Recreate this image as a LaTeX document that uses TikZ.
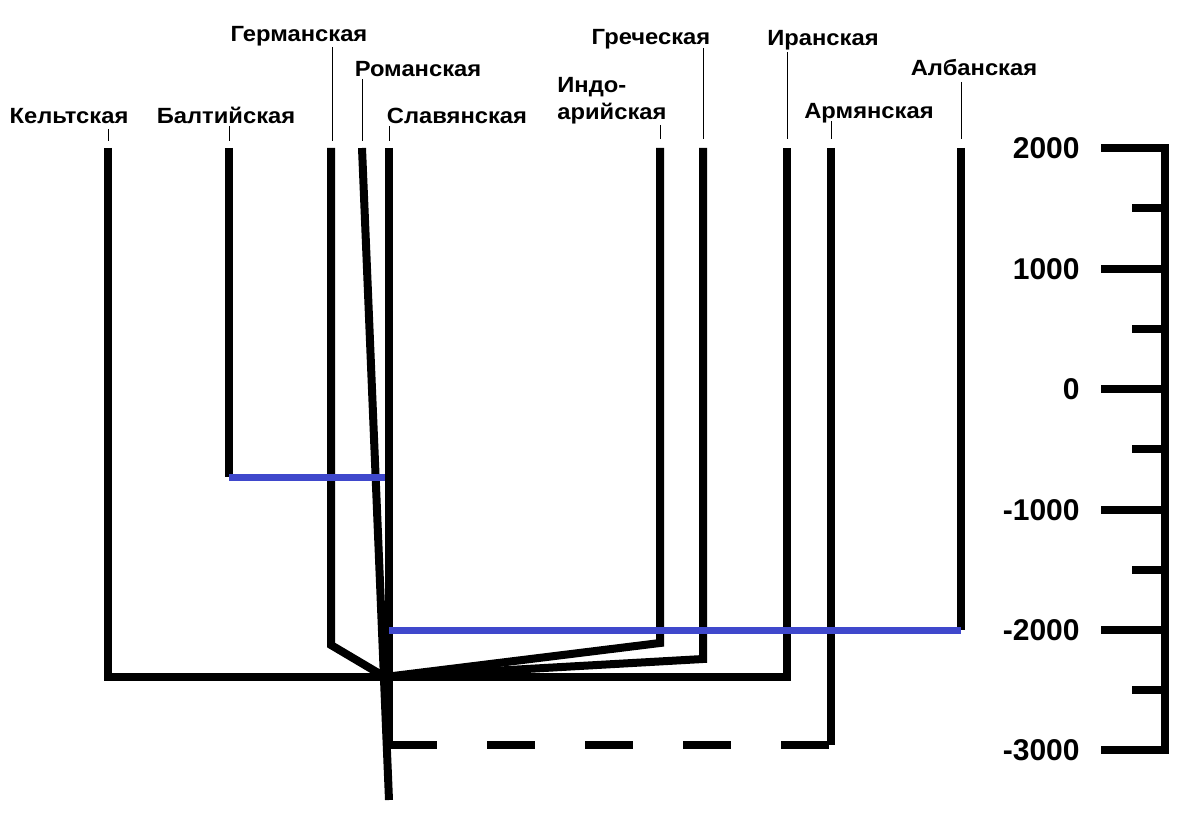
\documentclass[tikz,border=0pt]{standalone}
\usepackage{graphicx}
\usepackage{fontspec}
\setmainfont{Liberation Sans}
\definecolor{isoblue}{RGB}{63,72,204}
\newcommand\widetxt[1]{\scalebox{1.08}[1]{#1}}
\begin{document}
\begin{tikzpicture}[x=0.5pt,y=-0.5pt,
  bar/.style={line width=4pt, line join=miter},
  iso/.style={line width=3.5pt, draw=isoblue},
  dashedbar/.style={line width=4pt, dash pattern=on 24pt off 25pt},
  leader/.style={line width=0.5pt},
  lbl/.style={font=\bfseries\fontsize{11}{13.5}\selectfont, inner sep=0pt, anchor=base},
  num/.style={font=\bfseries\fontsize{15}{18}\selectfont, inner sep=0pt, anchor=east},
  scaleline/.style={line width=4pt, line join=miter}]
\useasboundingbox (0,0) rectangle (1200,818);

% ---- labels ----
\node[lbl] (kelt) at (69,124) {\widetxt{Кельтская}};
\node[lbl] (balt) at (226,124) {\widetxt{Балтийская}};
\node[lbl] (germ) at (299,42) {\widetxt{Германская}};
\node[lbl] (rom) at (418,77) {\widetxt{Романская}};
\node[lbl] (slav) at (457,124) {\widetxt{Славянская}};
\node[lbl, anchor=base west, align=left] (indo) at (557,120) {\widetxt{Индо-}\\\widetxt{арийская}};
\node[lbl] (grek) at (651,45) {\widetxt{Греческая}};
\node[lbl] (iran) at (823,46) {\widetxt{Иранская}};
\node[lbl] (arm) at (869,119) {\widetxt{Армянская}};
\node[lbl] (alb) at (974,76) {\widetxt{Албанская}};

% ---- coordinates ----
\coordinate (keltT) at (108,148);  \coordinate (keltB) at (108,677);
\coordinate (baltT) at (229,148);  \coordinate (baltB) at (229,477);
\coordinate (germT) at (331,148);  \coordinate (germK) at (331,645);
\coordinate (romT)  at (362,148);  \coordinate (root) at (389,800);
\coordinate (slavT) at (389,148);  \coordinate (slavB) at (389,745);
\coordinate (indoT) at (660,148);  \coordinate (indoK) at (660,643);
\coordinate (grekT) at (703,148);  \coordinate (grekK) at (703,659);
\coordinate (iranT) at (787,148);  \coordinate (iranB) at (787,677);
\coordinate (armT)  at (831,148);  \coordinate (armB)  at (831,745);
\coordinate (albT)  at (961,148);  \coordinate (albB)  at (961,630);
\coordinate (hub)   at (385,677);
\coordinate (baltJ) at (385,477);
\coordinate (albJ)  at (389,630);

% ---- leader lines ----
\draw[leader] (108,129) -- (108,141);
\draw[leader] (229,126) -- (229,141);
\draw[leader] (332,47) -- (332,141);
\draw[leader] (362,79) -- (362,141);
\draw[leader] (389,126) -- (389,141);
\draw[leader] (660,125) -- (660,139);
\draw[leader] (703,48) -- (703,139);
\draw[leader] (787,52) -- (787,139);
\draw[leader] (831,121) -- (831,139);
\draw[leader] (961,82) -- (961,139);

% ---- tree ----
\draw[bar] (keltT) -- (keltB) -- (iranB) -- (iranT);
\draw[bar] (baltT) -- (baltB);
\draw[bar] (germT) -- (germK) -- (hub);
\draw[bar] (indoT) -- (indoK) -- (hub);
\draw[bar] (grekT) -- (grekK) -- (hub);
\draw[bar] (romT) -- (root);
\draw[bar] (slavT) -- (slavB);
\draw[bar] (armT) -- (armB);
\draw[bar] (albT) -- (albB);
\draw[dashedbar] (slavB) -- (armB);

\draw[iso] (baltB) -- (baltJ);
\draw[iso] (albJ) -- (albB);

% ---- time scale ----
\draw[scaleline] (1101,148) -- (1165,148) -- (1165,750) -- (1101,750);
\foreach \y in {269,389,510,630} \draw[scaleline] (1101,\y) -- (1165,\y);
\foreach \y in {208,329,449,570,690} \draw[scaleline] (1132,\y) -- (1165,\y);
\node[num] (n2000) at (1080,148) {2000};
\node[num] (n1000) at (1080,269) {1000};
\node[num] (n0) at (1080,389) {0};
\node[num] (nm1000) at (1080,510) {-1000};
\node[num] (nm2000) at (1080,630) {-2000};
\node[num] (nm3000) at (1080,750) {-3000};
\end{tikzpicture}
\end{document}
